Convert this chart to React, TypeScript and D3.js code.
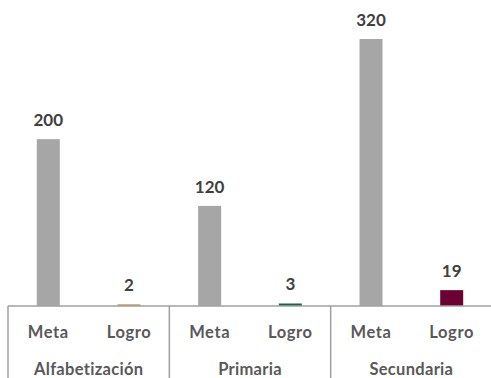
import React from "react";
import * as d3 from "d3";

const groups = ["Alfabetización", "Primaria", "Secundaria"];
const kinds = ["Meta", "Logro"];
const metaValues = [200, 120, 320];
const logroValues = [2, 3, 19];
const logroColors = ["#bb965c", "#1f5e4c", "#6b0032"];
const metaColor = "#a6a6a6";

export default function App() {
  const W = 491, H = 378;
  const x0 = 8, x1 = 492, baseY = 306;
  const bars = groups.flatMap((g, i) => [
    { key: `${g}-Meta`, group: g, kind: "Meta", value: metaValues[i], color: metaColor },
    { key: `${g}-Logro`, group: g, kind: "Logro", value: logroValues[i], color: logroColors[i] },
  ]);
  const x = d3.scaleBand<string>().domain(bars.map((b) => b.key)).range([x0, x1]).paddingInner(0.715).paddingOuter(0.357);
  const gx = d3.scaleBand<string>().domain(groups).range([x0, x1]);
  const y = d3.scaleLinear().domain([0, 350]).range([baseY, 14]);
  const font = "Lato, 'Open Sans', 'Liberation Sans', sans-serif";
  return (
    <svg width={W} height={H} style={{ position: "absolute", left: 0, top: 0, background: "#fff" }} fontFamily={font}>
      {bars.map((b) => (
        <g key={b.key}>
          <rect x={x(b.key)} y={y(b.value)} width={x.bandwidth()} height={baseY - y(b.value)} fill={b.color} />
          <text x={x(b.key)! + x.bandwidth() / 2} y={y(b.value) - 13} textAnchor="middle" fontSize={17} fontWeight="bold" fill="#404040">
            {b.value}
          </text>
          <text x={x(b.key)! + x.bandwidth() / 2} y={338} textAnchor="middle" fontSize={16.5} fontWeight="bold" fill="#595959" letterSpacing={0.6}>
            {b.kind}
          </text>
        </g>
      ))}
      {groups.map((g) => (
        <text key={g} x={gx(g)! + gx.bandwidth() / 2} y={375} textAnchor="middle" fontSize={16.5} fontWeight="bold" fill="#595959" letterSpacing={0.3}>
          {g}
        </text>
      ))}
      <line x1={x0} x2={x1} y1={baseY} y2={baseY} stroke="#a0a0a0" strokeWidth={1.5} />
      {[...groups.map((g) => gx(g)!), x1].map((px, i) => (
        <line key={i} x1={px} x2={px} y1={baseY} y2={H} stroke="#a0a0a0" strokeWidth={1.5} />
      ))}
    </svg>
  );
}
